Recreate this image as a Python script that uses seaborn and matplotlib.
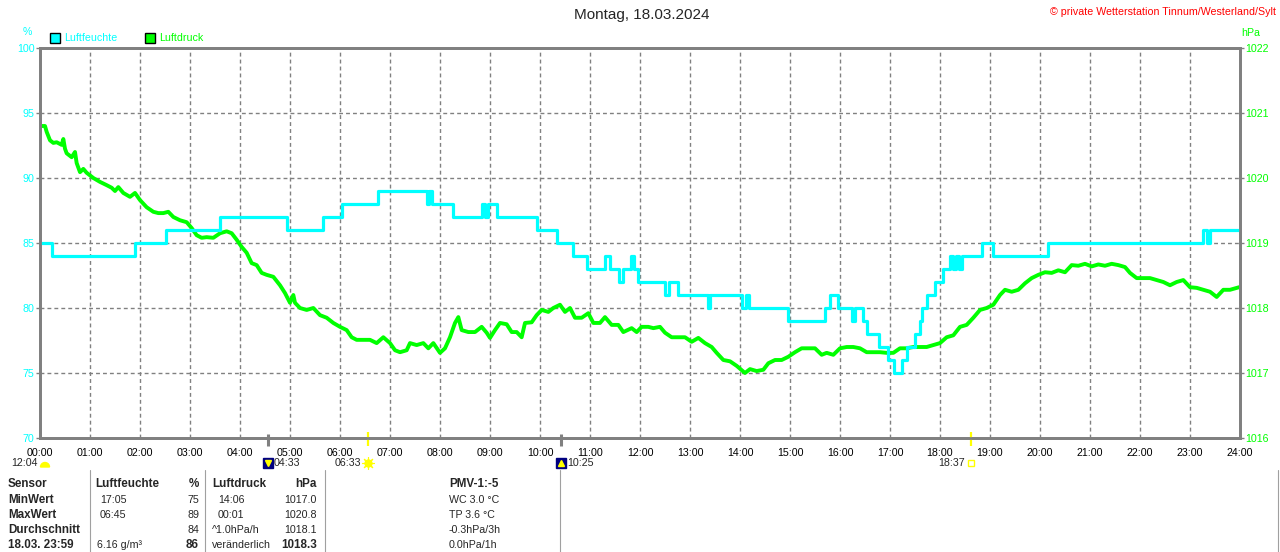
import numpy as np
import pandas as pd
import matplotlib.pyplot as plt
import seaborn as sns
from matplotlib.patches import Rectangle, Wedge

sns.set_style('white')
plt.rcParams['font.family'] = ['Liberation Sans', 'DejaVu Sans']

CYAN = '#00ffff'
GREEN = '#00ff00'
GRAY = '#808080'
FS = 7.7

# Luftfeuchte, step values (minute of day -> %)
hum_min = [0, 14, 114, 151, 216, 296, 340, 362, 406, 464, 467, 470, 496, 530, 534, 538, 548,
           596, 620, 640, 656, 678, 684, 695, 700, 709, 713, 718, 750, 755, 766, 802, 804,
           842, 847, 851, 898, 942, 948, 958, 974, 978, 988, 992, 1007, 1018, 1025, 1034,
           1040, 1050, 1056, 1058, 1064, 1074, 1084, 1092, 1096, 1099, 1103, 1106, 1130,
           1144, 1210, 1396, 1400, 1404, 1440]
hum_val = [85, 84, 85, 86, 87, 86, 87, 88, 89, 88, 89, 88, 87, 88, 87, 88, 87,
           86, 85, 84, 83, 84, 83, 82, 83, 84, 83, 82, 81, 82, 81, 80, 81,
           80, 81, 80, 79, 80, 81, 80, 79, 80, 79, 78, 77, 76, 75, 76,
           77, 78, 79, 80, 81, 82, 83, 84, 83, 84, 83, 84, 85,
           84, 85, 86, 85, 86, 86]

# Luftdruck (minute of day -> hPa)
pres_min = [0, 6, 8, 12, 16, 20, 26, 28, 30, 32, 38, 42, 44, 48, 52, 56, 64, 72, 80, 86, 90, 94,
            100, 108, 114, 120, 128, 136, 142, 148, 154, 160, 168, 176, 182, 188, 194, 200,
            208, 216, 224, 230, 236, 242, 248, 254, 260, 266, 272, 280, 288, 294, 300, 304,
            306, 312, 320, 328, 336, 344, 352, 360, 368, 374, 380, 388, 396, 404, 412, 420,
            426, 432, 440, 444, 452, 460, 466, 472, 480, 486, 492, 498, 502, 506, 514, 522,
            530, 536, 540, 546, 552, 560, 566, 572, 578, 582, 590, 596, 602, 610, 616, 624,
            630, 636, 642, 650, 658, 664, 672, 678, 686, 694, 700, 710, 716, 722, 730, 736,
            744, 750, 758, 766, 774, 782, 790, 798, 806, 812, 820, 828, 836, 846, 852, 860,
            868, 874, 882, 890, 898, 906, 914, 922, 930, 938, 944, 952, 960, 968, 976, 984,
            992, 1000, 1008, 1016, 1024, 1032, 1040, 1048, 1056, 1064, 1072, 1080, 1088,
            1096, 1104, 1112, 1120, 1128, 1136, 1144, 1152, 1158, 1166, 1174, 1182, 1190,
            1198, 1206, 1214, 1222, 1230, 1238, 1246, 1254, 1262, 1270, 1278, 1286, 1294,
            1302, 1308, 1316, 1324, 1332, 1340, 1348, 1356, 1364, 1372, 1380, 1388, 1396,
            1404, 1412, 1420, 1428, 1436, 1439]
pres_hpa = [1020.80, 1020.80, 1020.71, 1020.58, 1020.54, 1020.55, 1020.51, 1020.60, 1020.45,
            1020.38, 1020.32, 1020.40, 1020.23, 1020.09, 1020.14, 1020.08, 1020.00, 1019.94,
            1019.89, 1019.85, 1019.80, 1019.86, 1019.77, 1019.71, 1019.77, 1019.66, 1019.55,
            1019.48, 1019.46, 1019.46, 1019.48, 1019.40, 1019.35, 1019.32, 1019.23, 1019.12,
            1019.08, 1019.09, 1019.08, 1019.15, 1019.18, 1019.15, 1019.05, 1018.94, 1018.85,
            1018.69, 1018.66, 1018.54, 1018.51, 1018.48, 1018.35, 1018.23, 1018.08, 1018.20,
            1018.08, 1018.00, 1017.97, 1018.00, 1017.89, 1017.85, 1017.77, 1017.71, 1017.66,
            1017.55, 1017.51, 1017.51, 1017.51, 1017.46, 1017.55, 1017.46, 1017.35, 1017.32,
            1017.35, 1017.46, 1017.43, 1017.46, 1017.38, 1017.46, 1017.31, 1017.38, 1017.55,
            1017.77, 1017.86, 1017.66, 1017.63, 1017.63, 1017.71, 1017.62, 1017.54, 1017.66,
            1017.77, 1017.75, 1017.63, 1017.63, 1017.55, 1017.77, 1017.78, 1017.89, 1017.97,
            1017.94, 1018.00, 1018.05, 1017.94, 1018.00, 1017.85, 1017.85, 1017.92, 1017.77,
            1017.77, 1017.86, 1017.74, 1017.74, 1017.63, 1017.69, 1017.63, 1017.71, 1017.71,
            1017.69, 1017.71, 1017.62, 1017.55, 1017.55, 1017.55, 1017.48, 1017.54, 1017.46,
            1017.40, 1017.31, 1017.20, 1017.18, 1017.11, 1017.00, 1017.06, 1017.03, 1017.05,
            1017.15, 1017.20, 1017.20, 1017.25, 1017.32, 1017.38, 1017.38, 1017.38, 1017.28,
            1017.31, 1017.28, 1017.38, 1017.40, 1017.40, 1017.38, 1017.32, 1017.32, 1017.32,
            1017.31, 1017.31, 1017.38, 1017.38, 1017.40, 1017.40, 1017.40, 1017.43, 1017.46,
            1017.55, 1017.58, 1017.71, 1017.74, 1017.85, 1017.97, 1018.00, 1018.05, 1018.20,
            1018.28, 1018.25, 1018.28, 1018.38, 1018.46, 1018.51, 1018.55, 1018.54, 1018.58,
            1018.55, 1018.66, 1018.65, 1018.68, 1018.64, 1018.67, 1018.65, 1018.68, 1018.66,
            1018.63, 1018.54, 1018.46, 1018.46, 1018.46, 1018.43, 1018.40, 1018.35, 1018.40,
            1018.43, 1018.32, 1018.31, 1018.28, 1018.25, 1018.17, 1018.28, 1018.28, 1018.31,
            1018.32]

hours = list(range(25))
hour_labels = [f'{h:02d}:00' for h in hours]
hum_ticks = [70, 75, 80, 85, 90, 95, 100]
pres_ticks = [1016, 1017, 1018, 1019, 1020, 1021, 1022]

# sun / moon events: (hour, label, label side, kind)
events = [(4 + 33 / 60, '04:33', 'right', 'moon_down'),
          (6 + 33 / 60, '06:33', 'left', 'sunrise'),
          (10 + 25 / 60, '10:25', 'right', 'moon_up'),
          (18 + 37 / 60, '18:37', 'left', 'sunset')]

# summary table
table_rows = [
    ['Sensor', 'Luftfeuchte', '%', 'Luftdruck', 'hPa', 'PMV-1:-5'],
    ['MinWert', '17:05', '75', '14:06', '1017.0', 'WC 3.0 °C'],
    ['MaxWert', '06:45', '89', '00:01', '1020.8', 'TP 3.6 °C'],
    ['Durchschnitt', '', '84', '^1.0hPa/h', '1018.1', '-0.3hPa/3h'],
    ['18.03. 23:59', '6.16 g/m³', '86', 'veränderlich', '1018.3', '0.0hPa/1h'],
]

hum = pd.DataFrame({'h': np.array(hum_min) / 60, 'rf': hum_val})
pres = pd.DataFrame({'h': np.array(pres_min) / 60, 'p': pres_hpa})

fig = plt.figure(figsize=(12.8, 5.52), dpi=100)
ax = fig.add_axes([40 / 1280, 1 - 438 / 552, 1200 / 1280, 390 / 552])
ax2 = ax.twinx()

# pressure below, humidity drawn on top
sns.lineplot(data=pres, x='h', y='p', color=GREEN, lw=2.8, estimator=None, ax=ax2)
sns.lineplot(data=hum, x='h', y='rf', drawstyle='steps-post', color=CYAN, lw=2.3,
             estimator=None, ax=ax)
ax.set_zorder(ax2.get_zorder() + 1)
ax.patch.set_visible(False)
ax2.patch.set_visible(True)
ax2.patch.set_facecolor('white')

ax.set_xlim(0, 24)
ax.set_ylim(70, 100)
ax2.set_ylim(1016, 1022)
ax.set_xticks(hours)
ax.set_xticklabels(hour_labels)
ax.set_yticks(hum_ticks)
ax2.set_yticks(pres_ticks)
for a in (ax, ax2):
    a.set_xlabel('')
    a.set_ylabel('')
    for s in a.spines.values():
        s.set_color(GRAY)
        s.set_linewidth(2)

# grid lives on the lower axes so it stays under both lines
ax.grid(False)
ax2.xaxis.set_visible(True)
ax2.tick_params(axis='x', length=0, labelbottom=False)
ax2.grid(True, color=GRAY, ls=(0, (2.8, 2.2)), lw=1)

ax.tick_params(axis='x', length=0, pad=7, labelsize=FS, labelcolor='black')
ax.tick_params(axis='y', length=3, width=1, color=GRAY, labelcolor=CYAN, labelsize=FS, pad=1)
ax2.tick_params(axis='y', length=3, width=1, color=GRAY, labelcolor=GREEN, labelsize=FS, pad=1)

# event marks under the time axis
tr = ax.get_xaxis_transform()
for h, lab, side, kind in events:
    if kind.startswith('moon'):
        ax.plot([h, h], [0.0103, -0.0205], transform=tr, clip_on=False, color=GRAY, lw=2.2,
                solid_capstyle='butt')
        ax.plot(h, -0.064, transform=tr, clip_on=False, marker='s', ms=7.5, mfc='#000080',
                mec='#000080')
        ax.plot(h, -0.064, transform=tr, clip_on=False,
                marker='v' if kind == 'moon_down' else '^', ms=4, mfc='#ffff00', mec='#ffff00')
    else:
        ax.plot([h, h], [0.0154, -0.0205], transform=tr, clip_on=False, color='#ffff00', lw=1.6,
                solid_capstyle='butt')
        if kind == 'sunrise':
            ax.plot(h, -0.064, transform=tr, clip_on=False, marker='o', ms=5, mfc='#ffff00',
                    mec='#ffff00')
            ax.plot(h, -0.064, transform=tr, clip_on=False, marker=(8, 2, 0), ms=9,
                    mec='#ffff00', mew=0.8)
        else:
            ax.plot(h, -0.064, transform=tr, clip_on=False, marker='s', ms=4.5, mfc='white',
                    mec='#ffff00', mew=1)
    off = 4.6 if side == 'right' else -4.6
    ax.annotate(lab, xy=(h, -0.064), xycoords=tr, xytext=(off, 0), textcoords='offset points',
                ha='left' if side == 'right' else 'right', va='center', fontsize=FS)

# overlay in pixel coordinates for title, legend and table
ov = fig.add_axes([0, 0, 1, 1], zorder=5)
ov.set_xlim(0, 1280)
ov.set_ylim(552, 0)
ov.axis('off')
ov.patch.set_visible(False)

ov.text(642, 15, 'Montag, 18.03.2024', ha='center', va='center', fontsize=11)
ov.text(1276, 12, '© private Wetterstation Tinnum/Westerland/Sylt', ha='right', va='center',
        fontsize=FS, color='#ff0000')
ov.text(27, 32, '%', ha='center', va='center', fontsize=FS, color=CYAN)
ov.text(1241, 33, 'hPa', ha='left', va='center', fontsize=FS, color=GREEN)

ov.add_patch(Rectangle((50, 33), 10, 10, fc=CYAN, ec='black', lw=1))
ov.text(64, 38, 'Luftfeuchte', ha='left', va='center', fontsize=FS, color=CYAN)
ov.add_patch(Rectangle((145, 33), 10, 10, fc=GREEN, ec='black', lw=1))
ov.text(159, 38, 'Luftdruck', ha='left', va='center', fontsize=FS, color=GREEN)

# moon at left
ov.text(38, 463, '12:04', ha='right', va='center', fontsize=FS)
ov.add_patch(Wedge((45, 467), 4.5, 180, 360, fc='#ffff00', ec='#ffff00'))

col_x = [8, 100, 199, 212, 317, 449]
col_ha = ['left', 'left', 'right', 'left', 'right', 'left']
row_y = [484, 500, 515, 530, 545]
bold_cells = {(4, 2), (4, 4), (4, 0)}
for r, row in enumerate(table_rows):
    for c, txt in enumerate(row):
        x = col_x[c]
        if r == 0 and c == 1:
            x = 95
        if r == 4 and c == 1:
            x = 97
        if r in (1, 2) and c == 3:
            x = 218
        bold = r == 0 or c == 0 or (r, c) in bold_cells
        ov.text(x, row_y[r], txt, ha=col_ha[c], va='center',
                fontsize=8.4 if bold else FS, fontweight='bold' if bold else 'normal')
for x in [90, 205, 325, 560, 1278]:
    ov.plot([x, x], [470, 552], color='#a0a0a0', lw=0.8)

fig.savefig('out.png', dpi=100)
